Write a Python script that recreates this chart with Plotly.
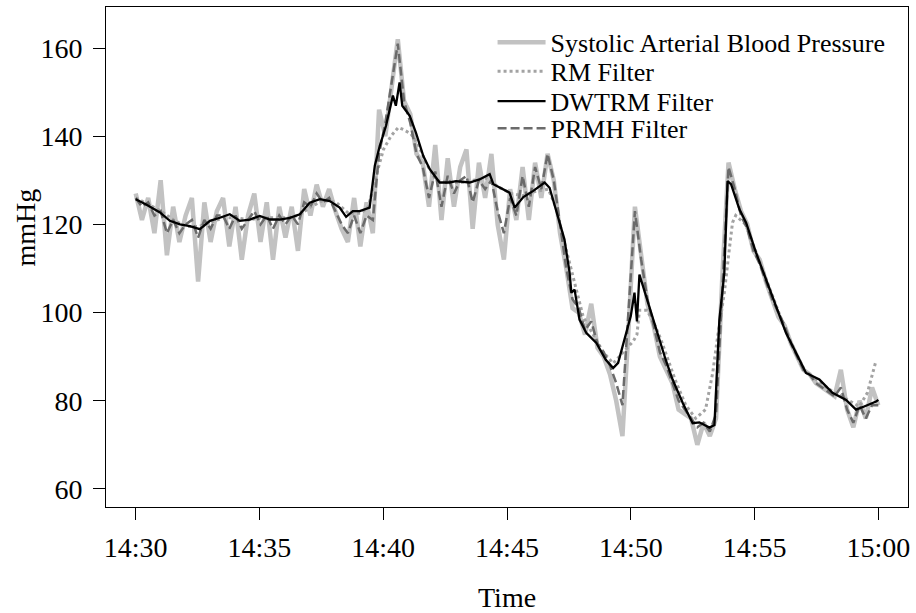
import plotly.graph_objects as go

# ---------------- data (minutes after 14:30, mmHg) ----------------
n_samples = 120
t_sbp = [30 * k / (n_samples - 1) for k in range(n_samples)]

sbp = [127, 121, 126, 118, 130, 113, 124, 116, 122, 126,
       107, 125, 116, 123, 126, 115, 124, 112, 122, 127,
       116, 125, 112, 124, 117, 124, 114, 128, 122, 129,
       124, 128, 123, 119, 116, 126, 115, 125, 118, 146,
       140, 152, 162, 148, 145, 136, 134, 124, 138, 121,
       135, 124, 133, 137, 119, 134, 126, 136, 120, 112,
       128, 121, 133, 121, 134, 126, 136, 130, 118, 110,
       101, 100, 95, 102, 92, 90, 86, 80, 72, 97,
       124, 113, 102, 97, 90, 87, 84, 78, 77, 76,
       70, 75, 72, 76, 108, 134, 128, 123, 120, 114,
       112, 107, 103, 99, 97, 93, 90, 87, 86, 84,
       83, 82, 81, 87, 78, 74, 80, 76, 83, 79]

prmh = [126, 124, 125, 122, 123, 118, 121, 118, 120, 121,
        117, 121, 119, 122, 122, 119, 122, 119, 121, 123,
        120, 122, 119, 122, 120, 122, 120, 125, 124, 127,
        125, 126, 123, 120, 118, 122, 118, 122, 121, 136,
        143, 152, 161, 148, 143, 136, 133, 126, 132, 124,
        131, 127, 130, 131, 125, 130, 128, 130, 123, 118,
        126, 122, 131, 124, 133, 128, 136, 130, 120, 110,
        103, 101, 96, 98, 93, 91, 88, 84, 79, 100,
        123, 112, 103, 97, 91, 88, 84, 80, 78, 76,
        74, 75, 73, 77, 106, 133, 128, 122, 119, 114,
        111, 107, 103, 100, 97, 93, 90, 87, 86, 84,
        83, 82, 81, 83, 78, 75, 79, 76, 79, 79]

rm_t = [0, 0.52, 1.03, 1.53, 2.04, 2.54, 3.05, 3.55, 4.06, 4.56,
        5.06, 5.57, 6.07, 6.58, 7.08, 7.59, 8.09, 8.6, 9.1, 9.4,
        9.71, 10.01, 10.31, 10.61, 10.82, 11.12, 11.42, 11.72, 12.13, 12.63,
        13.14, 13.64, 14.15, 14.65, 15.16, 15.66, 16.16, 16.67, 16.97, 17.27,
        17.68, 18.08, 18.48, 18.89, 19.29, 19.7, 20.1, 20.25, 20.35, 20.65,
        20.91, 21.21, 21.51, 21.81, 22.22, 22.62, 23.02, 23.31, 23.51, 23.78,
        23.98, 24.11, 24.24, 24.64, 25.04, 25.45, 25.85, 26.25, 26.66, 27.06,
        27.57, 28.17, 28.68, 29.23, 29.56, 29.9]
rm_v = [126, 124.5, 123, 121, 119.5, 119.5, 120.5, 121.5, 121.5, 121,
        121.5, 121.5, 121.5, 122, 124, 125.5, 125, 122.5, 122.5, 124,
        131, 137, 140, 142, 141.5, 140.5, 138, 134, 130, 129.5,
        129.5, 130, 130.5, 128.5, 127, 126.5, 127.5, 128, 124, 117,
        108, 99, 95, 91, 88.5, 91, 93.5, 95, 100.5, 100.5,
        98, 94, 89, 84.5, 79, 76, 78, 86.3, 94.6, 104.5,
        114.3, 120.4, 122, 120, 114, 108, 102, 96, 91, 86.5,
        84.5, 82, 80.5, 78.7, 81.8, 88.9]

dw_t = [0.0, 0.42, 0.98, 1.38, 1.79, 2.19, 2.59, 3.0, 3.4, 3.8,
        4.21, 4.61, 5.01, 5.42, 5.82, 6.23, 6.63, 7.03, 7.44, 7.84,
        8.24, 8.5, 8.77, 9.05, 9.45, 9.66, 9.86, 10.11, 10.39, 10.51,
        10.66, 10.77, 11.07, 11.32, 11.62, 11.88, 12.28, 12.68, 12.94, 13.49,
        13.89, 14.3, 14.45, 14.85, 15.1, 15.31, 15.66, 16.06, 16.52, 16.72,
        17.05, 17.32, 17.53, 17.6, 17.73, 17.93, 18.2, 18.61, 18.99, 19.29,
        19.49, 19.75, 20.0, 20.15, 20.25, 20.35, 20.62, 20.89, 21.16, 21.41,
        21.69, 22.1, 22.5, 22.77, 23.18, 23.38, 23.58, 23.78, 23.91, 24.05,
        24.39, 24.66, 25.06, 25.47, 25.87, 26.27, 26.68, 27.08, 27.62, 28.15,
        28.7, 29.1, 29.43, 29.91, 30.0]
dw_v = [125.7, 124.5, 122.7, 120.8, 120.0, 119.6, 118.9, 120.8, 121.5, 122.3,
        120.8, 121.1, 121.9, 121.1, 121.1, 121.5, 122.3, 124.9, 125.7, 125.3,
        123.8, 121.7, 123.0, 123.0, 123.8, 133.3, 137.8, 142.3, 149.2, 146.9,
        152.2, 146.9, 144.6, 140.8, 135.5, 132.5, 129.5, 129.5, 129.8, 129.5,
        130.2, 131.4, 129.1, 128.0, 127.2, 123.8, 126.2, 127.6, 129.5, 128.3,
        121.9, 116.6, 109.0, 104.5, 105.2, 98.4, 95.4, 93.1, 89.3, 87.4,
        88.6, 93.9, 99.2, 104.5, 98.0, 108.6, 103.7, 98.4, 93.9, 89.3,
        84.8, 79.5, 74.9, 75.1, 73.9, 74.5, 98.4, 109.0, 129.8, 129.1,
        123.4, 120.4, 113.6, 107.5, 101.4, 95.4, 90.8, 86.3, 84.8, 81.8,
        80.2, 78.0, 78.7, 79.8, 80.2]

x_tickvals = [0, 5, 10, 15, 20, 25, 30]
x_ticktext = ["14:30", "14:35", "14:40", "14:45", "14:50", "14:55", "15:00"]
y_tickvals = [60, 80, 100, 120, 140, 160]

names = ["Systolic Arterial Blood Pressure", "RM Filter", "DWTRM Filter", "PRMH Filter"]

# ---------------- figure ----------------
FONT = "Liberation Serif, Times New Roman, serif"
fig = go.Figure()
fig.add_trace(go.Scatter(x=t_sbp, y=sbp, mode="lines", name=names[0], legend="legend",
                         line=dict(color="#c2c2c2", width=4.5)))
fig.add_trace(go.Scatter(x=rm_t, y=rm_v, mode="lines", name=names[1], legend="legend2",
                         line=dict(color="#a3a3a3", width=3, dash="dot")))
fig.add_trace(go.Scatter(x=t_sbp, y=prmh, mode="lines", name=names[3], legend="legend4",
                         line=dict(color="#6b6b6b", width=2.5, dash="9px,4px")))
fig.add_trace(go.Scatter(x=dw_t, y=dw_v, mode="lines", name=names[2], legend="legend3",
                         line=dict(color="#000000", width=2.3)))

axis_common = dict(showgrid=False, zeroline=False, showline=True, mirror=True,
                   linecolor="black", linewidth=1, ticks="outside", ticklen=12,
                   tickwidth=1, tickcolor="black", automargin=False,
                   tickfont=dict(family=FONT, size=28, color="black"))


def legend_row(ypaper):
    return dict(x=0.482, y=ypaper, xanchor="left", yanchor="middle",
                bgcolor="rgba(0,0,0,0)", borderwidth=0,
                font=dict(family=FONT, size=26, color="black"),
                itemwidth=48)


fig.update_layout(
    width=916, height=613,
    margin=dict(l=106, r=8, t=7, b=106, autoexpand=False),
    paper_bgcolor="white", plot_bgcolor="white",
    font=dict(family=FONT, color="black"),
    showlegend=True,
    legend=legend_row(0.9293),
    legend2=legend_row(0.8713),
    legend3=legend_row(0.8114),
    legend4=legend_row(0.7574),
    xaxis=dict(range=[-1.2, 31.2], tickvals=x_tickvals, ticktext=x_ticktext,
               ticklabelstandoff=3, **axis_common),
    yaxis=dict(range=[55.9, 169.3], tickvals=y_tickvals,
               ticklabelstandoff=5, **axis_common),
    annotations=[
        dict(text="Time", xref="paper", yref="paper", x=0.5, y=-0.181,
             xanchor="center", yanchor="middle", showarrow=False,
             font=dict(family=FONT, size=28, color="black")),
        dict(text="mmHg", xref="paper", yref="paper", x=-0.0998, y=0.559,
             xanchor="center", yanchor="middle", showarrow=False, textangle=-90,
             font=dict(family=FONT, size=28, color="black")),
    ],
)

fig.write_html("out.html",
               config={"displayModeBar": False},
               post_script="document.body.style.margin='0px';"
                           "document.body.style.padding='0px';")
